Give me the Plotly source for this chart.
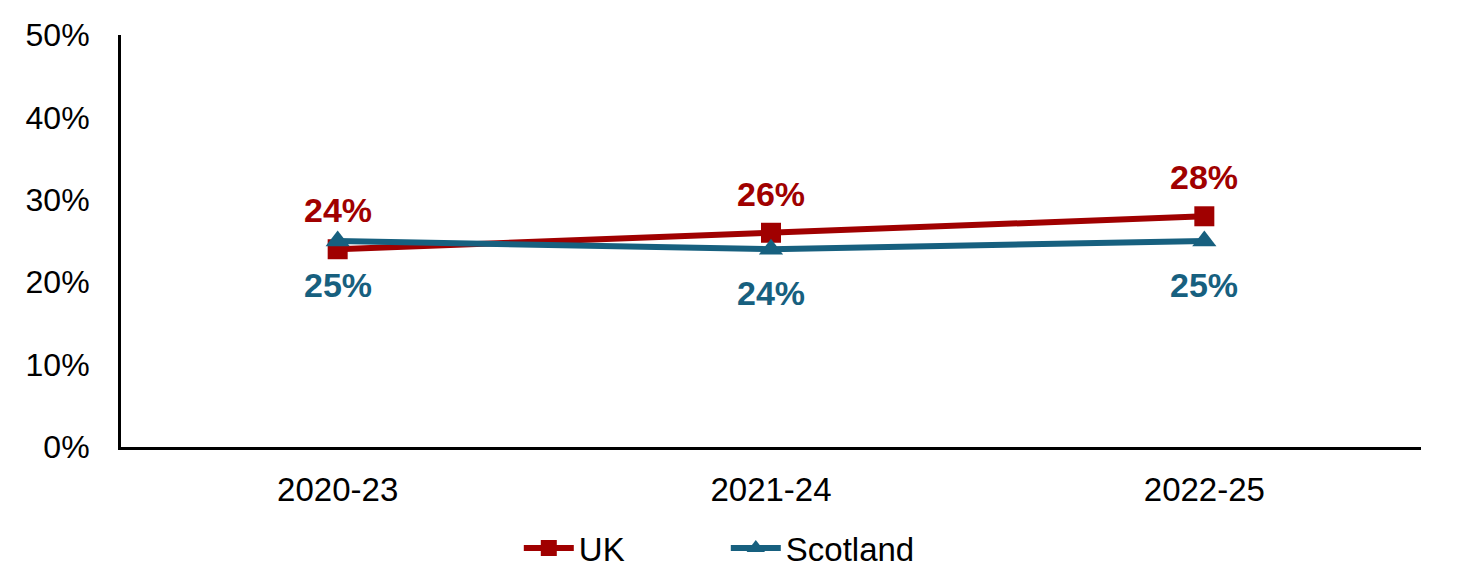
import plotly.graph_objects as go

categories = ["2020-23", "2021-24", "2022-25"]
uk_values = [24, 26, 28]
scotland_values = [25, 24, 25]
y_ticks = [0, 10, 20, 30, 40, 50]
y_tick_labels = ["0%", "10%", "20%", "30%", "40%", "50%"]

RED = "#A00000"
TEAL = "#17607F"
FONT = "Liberation Sans, Arial, sans-serif"

fig = go.Figure()
fig.add_trace(go.Scatter(
    x=categories, y=uk_values, name="UK", mode="lines+markers",
    line=dict(color=RED, width=6),
    marker=dict(symbol="square", size=20, color=RED),
))
fig.add_trace(go.Scatter(
    x=categories, y=scotland_values, name="Scotland", mode="lines+markers",
    line=dict(color=TEAL, width=6),
    marker=dict(symbol="triangle-up", size=21, color=TEAL),
))

for cat, v in zip(categories, uk_values):
    fig.add_annotation(x=cat, y=v, text=f"<b>{v}%</b>", showarrow=False,
                       yshift=39, yanchor="middle",
                       font=dict(family=FONT, size=34, color=RED))
for cat, v in zip(categories, scotland_values):
    fig.add_annotation(x=cat, y=v, text=f"<b>{v}%</b>", showarrow=False,
                       yshift=-44, yanchor="middle",
                       font=dict(family=FONT, size=34, color=TEAL))

fig.update_layout(
    width=1454, height=564,
    margin=dict(l=113, r=41, t=27, b=125, autoexpand=False),
    paper_bgcolor="white", plot_bgcolor="white",
    font=dict(family=FONT, size=33, color="black"),
    showlegend=True,
    legend=dict(orientation="h", x=0.306, xanchor="left", y=-0.245, yanchor="middle",
                font=dict(family=FONT, size=33, color="black"),
                itemwidth=50, entrywidth=142, entrywidthmode="pixels", tracegroupgap=0),
    xaxis=dict(type="category", range=[-0.5, 2.5], showline=True, linecolor="black",
               linewidth=3, showgrid=False, ticks="", tickfont=dict(size=33),
               ticklabelstandoff=11, automargin=False),
    yaxis=dict(range=[0, 50], tickvals=y_ticks, ticktext=y_tick_labels, showline=True,
               linecolor="black", linewidth=3, showgrid=False, ticks="",
               tickfont=dict(size=32), zeroline=False, ticklabelstandoff=22,
               automargin=False),
)

fig.write_html("out.html")
